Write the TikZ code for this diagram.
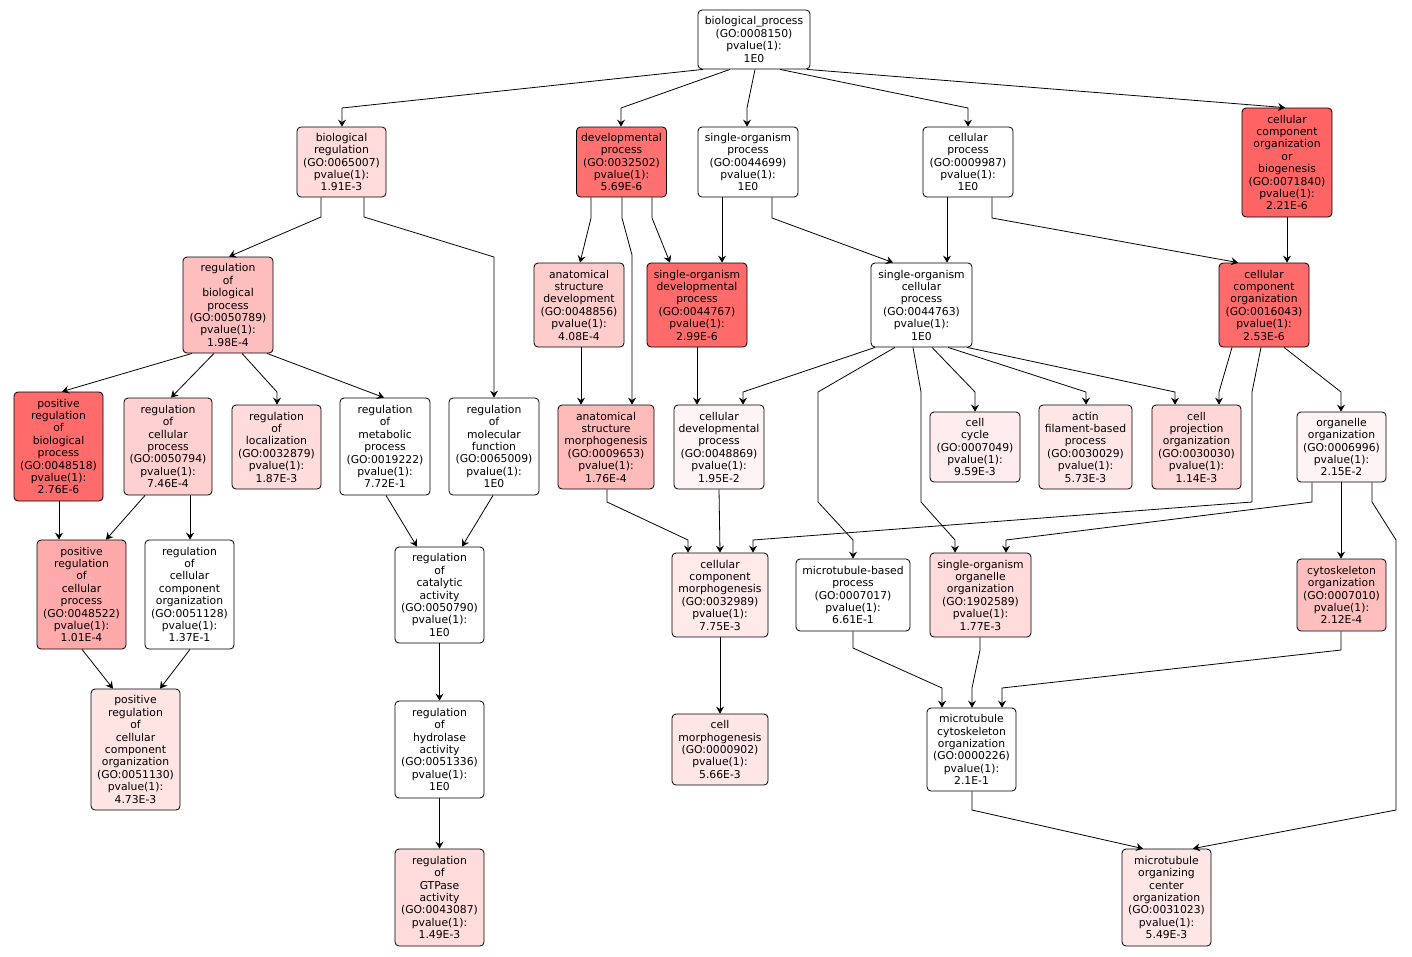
\documentclass[tikz,border=0pt]{standalone}
\usepackage{fontspec}
\setmainfont{DejaVu Sans}
\usetikzlibrary{arrows.meta}
\definecolor{cA}{HTML}{FF6464}
\definecolor{cB}{HTML}{FF6A6A}
\definecolor{cC}{HTML}{FF7070}
\definecolor{cD}{HTML}{FFAAAA}
\definecolor{cE}{HTML}{FFBABA}
\definecolor{cF}{HTML}{FFBEBE}
\definecolor{cG}{HTML}{FFCCCC}
\definecolor{cH}{HTML}{FFD0D0}
\definecolor{cI}{HTML}{FFD7D7}
\definecolor{cJ}{HTML}{FFDBDB}
\definecolor{cK}{HTML}{FFE4E4}
\definecolor{cL}{HTML}{FFE6E6}
\definecolor{cM}{HTML}{FFE9E9}
\definecolor{cN}{HTML}{FFEDED}
\definecolor{cO}{HTML}{FFF4F4}
\tikzset{
  gobox/.style={draw, rounded corners=4pt, line width=0.8pt, align=center, inner sep=0pt,
    font=\fontsize{10.8}{12.4}\selectfont},
  edge/.style={line width=0.8pt, -{Stealth[length=7pt,width=8pt,inset=2.5pt]}}
}
\newcommand{\gon}[7]{\node[gobox, fill=#6, minimum width=#4pt, minimum height=#5pt] (#1) at (#2,#3) {#7};}
\begin{document}
\begin{tikzpicture}[x=1pt,y=-1pt]
\fill[white] (0,0) rectangle (1412,956);
\useasboundingbox (0,0) rectangle (1412,956);
% nodes
\gon{bp}{754}{39.5}{112}{59}{white}{biological\_process\\(GO:0008150)\\pvalue(1):\\1E0}
\gon{bioreg}{341.5}{162}{89}{70}{cJ}{biological\\regulation\\(GO:0065007)\\pvalue(1):\\1.91E-3}
\gon{devproc}{621.5}{162}{90}{70}{cC}{developmental\\process\\(GO:0032502)\\pvalue(1):\\5.69E-6}
\gon{sop}{748}{162}{100}{70}{white}{single-organism\\process\\(GO:0044699)\\pvalue(1):\\1E0}
\gon{cp}{968}{162}{90}{70}{white}{cellular\\process\\(GO:0009987)\\pvalue(1):\\1E0}
\gon{ccob}{1287}{162.5}{90}{109}{cA}{cellular\\component\\organization\\or\\biogenesis\\(GO:0071840)\\pvalue(1):\\2.21E-6}
\gon{rbp}{228}{305}{90}{96}{cF}{regulation\\of\\biological\\process\\(GO:0050789)\\pvalue(1):\\1.98E-4}
\gon{asd}{579}{305}{90}{84}{cG}{anatomical\\structure\\development\\(GO:0048856)\\pvalue(1):\\4.08E-4}
\gon{sodp}{697}{305}{100}{84}{cB}{single-organism\\developmental\\process\\(GO:0044767)\\pvalue(1):\\2.99E-6}
\gon{socp}{921.5}{305}{101}{84}{white}{single-organism\\cellular\\process\\(GO:0044763)\\pvalue(1):\\1E0}
\gon{cco}{1264}{305}{90}{84}{cB}{cellular\\component\\organization\\(GO:0016043)\\pvalue(1):\\2.53E-6}
\gon{prbp}{58.5}{446.5}{89}{109}{cB}{positive\\regulation\\of\\biological\\process\\(GO:0048518)\\pvalue(1):\\2.76E-6}
\gon{rcp}{168}{446.5}{88}{97}{cH}{regulation\\of\\cellular\\process\\(GO:0050794)\\pvalue(1):\\7.46E-4}
\gon{rloc}{276.5}{447}{89}{84}{cJ}{regulation\\of\\localization\\(GO:0032879)\\pvalue(1):\\1.87E-3}
\gon{rmp}{385}{446.5}{90}{97}{white}{regulation\\of\\metabolic\\process\\(GO:0019222)\\pvalue(1):\\7.72E-1}
\gon{rmf}{494}{446.5}{90}{97}{white}{regulation\\of\\molecular\\function\\(GO:0065009)\\pvalue(1):\\1E0}
\gon{asm}{606}{447}{96}{84}{cE}{anatomical\\structure\\morphogenesis\\(GO:0009653)\\pvalue(1):\\1.76E-4}
\gon{cdp}{719}{447}{90}{84}{cO}{cellular\\developmental\\process\\(GO:0048869)\\pvalue(1):\\1.95E-2}
\gon{cc}{975}{447}{90}{70}{cN}{cell\\cycle\\(GO:0007049)\\pvalue(1):\\9.59E-3}
\gon{afbp}{1085.5}{447}{93}{84}{cL}{actin\\filament-based\\process\\(GO:0030029)\\pvalue(1):\\5.73E-3}
\gon{cpo}{1196.5}{447}{89}{84}{cI}{cell\\projection\\organization\\(GO:0030030)\\pvalue(1):\\1.14E-3}
\gon{oo}{1341.5}{447}{89}{70}{cO}{organelle\\organization\\(GO:0006996)\\pvalue(1):\\2.15E-2}
\gon{prcp}{81.5}{594.5}{89}{109}{cD}{positive\\regulation\\of\\cellular\\process\\(GO:0048522)\\pvalue(1):\\1.01E-4}
\gon{rcco}{189.5}{594.5}{89}{109}{white}{regulation\\of\\cellular\\component\\organization\\(GO:0051128)\\pvalue(1):\\1.37E-1}
\gon{rca}{439.5}{595}{89}{96}{white}{regulation\\of\\catalytic\\activity\\(GO:0050790)\\pvalue(1):\\1E0}
\gon{ccm}{720}{595}{96}{84}{cM}{cellular\\component\\morphogenesis\\(GO:0032989)\\pvalue(1):\\7.75E-3}
\gon{mbp}{853}{595}{114}{72}{white}{microtubule-based\\process\\(GO:0007017)\\pvalue(1):\\6.61E-1}
\gon{soo}{980.5}{595}{101}{84}{cJ}{single-organism\\organelle\\organization\\(GO:1902589)\\pvalue(1):\\1.77E-3}
\gon{co}{1341.5}{595}{89}{72}{cF}{cytoskeleton\\organization\\(GO:0007010)\\pvalue(1):\\2.12E-4}
\gon{prcco}{135.5}{749.5}{89}{121}{cK}{positive\\regulation\\of\\cellular\\component\\organization\\(GO:0051130)\\pvalue(1):\\4.73E-3}
\gon{rha}{439.5}{749.5}{89}{97}{white}{regulation\\of\\hydrolase\\activity\\(GO:0051336)\\pvalue(1):\\1E0}
\gon{cm}{720}{749.5}{96}{71}{cL}{cell\\morphogenesis\\(GO:0000902)\\pvalue(1):\\5.66E-3}
\gon{mco}{971.5}{749.5}{89}{83}{white}{microtubule\\cytoskeleton\\organization\\(GO:0000226)\\pvalue(1):\\2.1E-1}
\gon{rgtp}{439.5}{897.5}{89}{97}{cJ}{regulation\\of\\GTPase\\activity\\(GO:0043087)\\pvalue(1):\\1.49E-3}
\gon{mtoc}{1166.5}{897.5}{89}{97}{cL}{microtubule\\organizing\\center\\organization\\(GO:0031023)\\pvalue(1):\\5.49E-3}
% edges
\draw[edge] (bp.south -| 703,0) -- (342,108) -- (bioreg.north -| 342,0);
\draw[edge] (bp.south -| 730,0) -- (621,108) -- (devproc.north -| 621,0);
\draw[edge] (bp.south -| 755,0) -- (747,108) -- (sop.north -| 747,0);
\draw[edge] (bp.south -| 780,0) -- (968,108) -- (cp.north -| 968,0);
\draw[edge] (bp.south -| 807,0) -- (ccob.north -| 1285,0);
\draw[edge] (bioreg.south -| 321,0) -- (321,217) -- (rbp.north -| 229,0);
\draw[edge] (bioreg.south -| 364,0) -- (364,217) -- (494,257) -- (rmf.north -| 494,0);
\draw[edge] (devproc.south -| 591,0) -- (591,218) -- (asd.north -| 580,0);
\draw[edge] (devproc.south -| 622,0) -- (622,218) -- (632,255) -- (asm.north -| 632,0);
\draw[edge] (devproc.south -| 652,0) -- (652,218) -- (sodp.north -| 670,0);
\draw[edge] (sop.south -| 722,0) -- (sodp.north -| 722,0);
\draw[edge] (sop.south -| 772,0) -- (772,218) -- (socp.north -| 893,0);
\draw[edge] (cp.south -| 947,0) -- (socp.north -| 947,0);
\draw[edge] (cp.south -| 992,0) -- (992,218) -- (cco.north -| 1238,0);
\draw[edge] (ccob.south -| 1287,0) -- (cco.north -| 1287,0);
\draw[edge] (rbp.south -| 192,0) -- (prbp.north -| 62,0);
\draw[edge] (rbp.south -| 214,0) -- (rcp.north -| 171,0);
\draw[edge] (rbp.south -| 242,0) -- (277,392) -- (rloc.north -| 277,0);
\draw[edge] (rbp.south -| 267,0) -- (rmp.north -| 384,0);
\draw[edge] (prbp.south -| 59,0) -- (prcp.north -| 59,0);
\draw[edge] (rcp.south -| 145,0) -- (prcp.north -| 106,0);
\draw[edge] (rcp.south -| 190,0) -- (rcco.north -| 190,0);
\draw[edge] (prcp.south -| 82,0) -- (prcco.north -| 113,0);
\draw[edge] (rcco.south -| 190,0) -- (prcco.north -| 160,0);
\draw[edge] (rmp.south -| 386,0) -- (rca.north -| 417,0);
\draw[edge] (rmf.south -| 493,0) -- (rca.north -| 462,0);
\draw[edge] (rca.south) -- (rha.north);
\draw[edge] (rha.south) -- (rgtp.north);
\draw[edge] (asd.south -| 581,0) -- (asm.north -| 581,0);
\draw[edge] (sodp.south -| 697,0) -- (cdp.north -| 697,0);
\draw[edge] (socp.south -| 875,0) -- (743,392) -- (cdp.north -| 743,0);
\draw[edge] (socp.south -| 895,0) -- (818,392) -- (818,502) -- (853,540) -- (mbp.north -| 853,0);
\draw[edge] (socp.south -| 913,0) -- (921,392) -- (921,502) -- (955,540) -- (soo.north -| 955,0);
\draw[edge] (socp.south -| 932,0) -- (975,392) -- (cc.north -| 975,0);
\draw[edge] (socp.south -| 948,0) -- (1086,392) -- (afbp.north -| 1086,0);
\draw[edge] (socp.south -| 967,0) -- (1175,392) -- (cpo.north -| 1175,0);
\draw[edge] (cco.south -| 1232,0) -- (1219,392) -- (cpo.north -| 1219,0);
\draw[edge] (cco.south -| 1261,0) -- (1252,392) -- (1252,502) -- (753,540) -- (ccm.north -| 753,0);
\draw[edge] (cco.south -| 1284,0) -- (1341,392) -- (oo.north -| 1341,0);
\draw[edge] (oo.south -| 1312,0) -- (1312,502) -- (1006,540) -- (soo.north -| 1006,0);
\draw[edge] (oo.south -| 1341,0) -- (co.north -| 1341,0);
\draw[edge] (oo.south -| 1372,0) -- (1372,502) -- (1396,540) -- (1396,810) -- (mtoc.north -| 1193,0);
\draw[edge] (cdp.south -| 719,0) -- (ccm.north -| 720,0);
\draw[edge] (asm.south -| 607,0) -- (607,502) -- (688,540) -- (ccm.north -| 688,0);
\draw[edge] (ccm.south -| 720,0) -- (cm.north -| 720,0);
\draw[edge] (mbp.south -| 853,0) -- (853,648) -- (942,688) -- (mco.north -| 942,0);
\draw[edge] (soo.south -| 980,0) -- (980,650) -- (972,688) -- (mco.north -| 972,0);
\draw[edge] (co.south -| 1341,0) -- (1341,650) -- (1002,688) -- (mco.north -| 1002,0);
\draw[edge] (mco.south -| 972,0) -- (972,810) -- (mtoc.north -| 1143,0);
\end{tikzpicture}
\end{document}
